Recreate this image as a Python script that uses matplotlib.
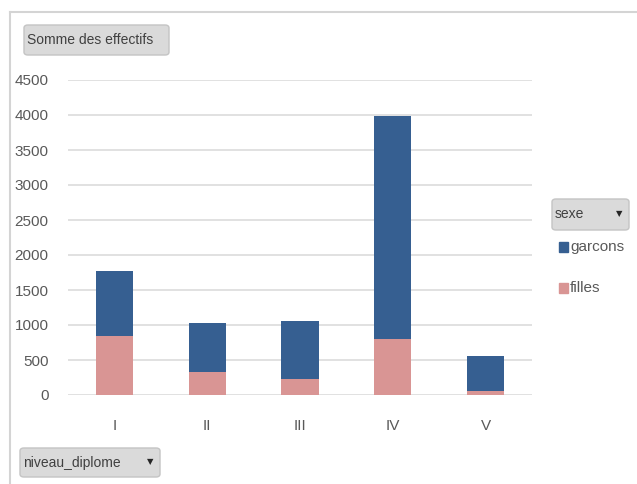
###############################################################################
# Somme des effectifs par niveau de diplome, empile par sexe
###############################################################################
import matplotlib
matplotlib.use('Agg')
import matplotlib.pyplot as plt
from matplotlib import font_manager
from matplotlib.patches import FancyBboxPatch, Rectangle
from matplotlib.lines import Line2D

# Data
niveaux = ['I', 'II', 'III', 'IV', 'V']
filles = [850, 335, 230, 795, 60]
garcons = [925, 700, 830, 3195, 500]
yticks = [0, 500, 1000, 1500, 2000, 2500, 3000, 3500, 4000, 4500]

# Style
names = {f.name for f in font_manager.fontManager.ttflist}
NARROW = 'Liberation Sans Narrow' in names
FAMILY = ['Liberation Sans Narrow', 'DejaVu Sans'] if NARROW \
    else ['Liberation Sans', 'DejaVu Sans']
FS = 12 if NARROW else 10
plt.rcParams['font.family'] = FAMILY
(BLUE, PINK, GRID, TXT) = ('#365F91', '#D99594', '#DCDCDC', '#595959')
(W, H) = (637, 484)

fig = plt.figure(figsize=(W / 100, H / 100), dpi=100)
ax = fig.add_axes([68 / W, 1 - 395 / H, (532 - 68) / W, (395 - 80) / H])

x = range(len(niveaux))
ax.bar(x, filles, width=0.4, color=PINK, zorder=3)
ax.bar(x, garcons, width=0.4, bottom=filles, color=BLUE, zorder=3)

ax.set_xlim(-0.5, len(niveaux) - 0.5)
ax.set_ylim(0, 4500)
ax.set_yticks(yticks)
ax.set_xticks(list(x))
ax.set_xticklabels(niveaux)
ax.yaxis.grid(True, color=GRID, linewidth=1.2, zorder=0)
for s in ax.spines.values():
    s.set_visible(False)
ax.tick_params(axis='both', length=0, labelsize=FS + 1, colors=TXT)
ax.tick_params(axis='y', pad=14)
ax.tick_params(axis='x', pad=17)


def px(xp, yp):
    # pixel position (top-left origin) -> figure fraction
    return (xp / W, 1 - yp / H)


def button(x0, y0, x1, y1, label, arrow=False):
    (fx, fy) = px(x0, y1)
    fig.patches.append(FancyBboxPatch(
        (fx, fy), (x1 - x0) / W, (y1 - y0) / H,
        boxstyle='round,pad=0,rounding_size=0.006',
        transform=fig.transFigure, facecolor='#DADADA',
        edgecolor='#C4C4C4', linewidth=1, zorder=5
    ))
    fig.text(*px(x0 + 3, (y0 + y1) / 2), label, fontsize=FS, color='#404040',
             ha='left', va='center', zorder=6)
    if arrow:
        fig.text(*px(x1 - 10, (y0 + y1) / 2 - 1), '\u25BC', fontsize=6,
                 color='#262626', ha='center', va='center', zorder=6,
                 family='DejaVu Sans')


# outer frame (top and left only)
fig.lines.append(Line2D([10 / W, 1], [1 - 12 / H] * 2, transform=fig.transFigure,
                        color='#D4D4D4', linewidth=1.5))
fig.lines.append(Line2D([10 / W] * 2, [0, 1 - 12 / H], transform=fig.transFigure,
                        color='#D4D4D4', linewidth=1.5))

button(24, 25, 169, 55, 'Somme des effectifs')
button(552, 199, 629, 230, 'sexe', arrow=True)
button(20, 448, 160, 477, 'niveau_diplome', arrow=True)

# legend
for (yc, col, lab) in [(247, BLUE, 'garcons'), (288, PINK, 'filles')]:
    fig.patches.append(Rectangle(px(559, yc + 5), 9 / W, 10 / H,
                                 transform=fig.transFigure, color=col))
    fig.text(*px(570, yc), lab, fontsize=FS + 1, color=TXT, ha='left', va='center')

plt.savefig('out.png', dpi=100)
plt.close()
